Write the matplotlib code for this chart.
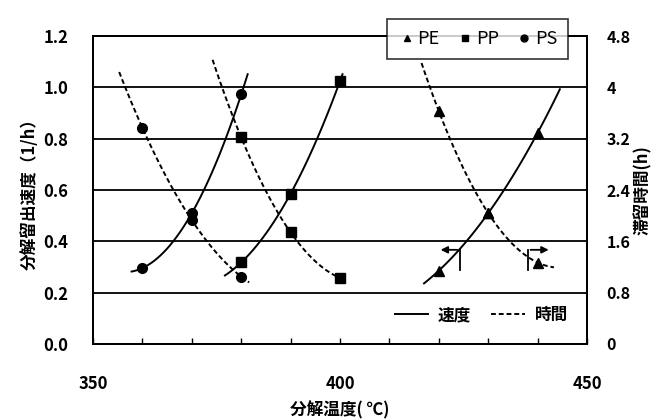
import numpy as np
import matplotlib
matplotlib.use('Agg')
from matplotlib import pyplot as plt
from matplotlib.lines import Line2D

plt.rcParams['font.family'] = ['Noto Sans CJK JP', 'DejaVu Sans']

# decomposition temperature (C) for each resin
temps = [360, 370, 380]
pp_temps = [380, 390, 400]
pe_temps = [420, 430, 440]

# distillation rate (1/h), left axis
ps_rate = [0.296, 0.51, 0.973]
pp_rate = [0.318, 0.586, 1.025]
pe_rate = [0.286, 0.51, 0.823]

# residence time (h), right axis
ps_time = [3.37, 1.93, 1.05]
pp_time = [3.22, 1.74, 1.03]
pe_time = [3.63, 2.04, 1.27]

# temperature span of each trend curve
ps_rate_span = (357.8, 381.3)
ps_time_span = (355.3, 381.6)
pp_rate_span = (376.7, 400.5)
pp_time_span = (374.2, 400.0)
pe_rate_span = (417.0, 444.5)
pe_time_span = (416.5, 443.3)

left_ticks = [0.0, 0.2, 0.4, 0.6, 0.8, 1.0, 1.2]
right_ticks = [0, 0.8, 1.6, 2.4, 3.2, 4, 4.8]
right_labels = ['0', '0.8', '1.6', '2.4', '3.2', '4', '4.8']


def trend(ax, x, y, span, ls):
    c = np.polyfit(x, y, 2)
    xs = np.linspace(span[0], span[1], 100)
    ax.plot(xs, np.polyval(c, xs), color='black', lw=1.4, ls=ls)


fig = plt.figure(figsize=(6.57, 4.2), dpi=100)
ax = fig.add_axes([0.1416, 0.181, 0.7519, 0.733])
ax2 = ax.twinx()

ax.set_xlim(350, 450)
ax.set_ylim(0, 1.2)
ax2.set_ylim(0, 4.8)

for v in left_ticks[1:-1]:
    ax.axhline(v, color='black', lw=1.3, zorder=1)

dash = (0, (2.5, 1.5))
trend(ax, temps, ps_rate, ps_rate_span, '-')
trend(ax, pp_temps, pp_rate, pp_rate_span, '-')
trend(ax, pe_temps, pe_rate, pe_rate_span, '-')
trend(ax2, temps, ps_time, ps_time_span, dash)
trend(ax2, pp_temps, pp_time, pp_time_span, dash)
trend(ax2, pe_temps, pe_time, pe_time_span, dash)

ax.plot(temps, ps_rate, 'o', color='black', ms=7)
ax.plot(pp_temps, pp_rate, 's', color='black', ms=6.5)
ax.plot(pe_temps, pe_rate, '^', color='black', ms=6.5)
ax2.plot(temps, ps_time, 'o', color='black', ms=7)
ax2.plot(pp_temps, pp_time, 's', color='black', ms=6.5)
ax2.plot(pe_temps, pe_time, '^', color='black', ms=6.5)

# arrows telling which axis each PE curve belongs to
ax.plot([424.3, 424.3], [0.29, 0.367], color='black', lw=1.3)
ax.annotate('', xy=(419.8, 0.367), xytext=(424.3, 0.367),
            arrowprops=dict(arrowstyle='-|>', color='black', lw=1.3, mutation_scale=10))
ax.plot([438.0, 438.0], [0.29, 0.367], color='black', lw=1.3)
ax.annotate('', xy=(442.8, 0.367), xytext=(438.0, 0.367),
            arrowprops=dict(arrowstyle='-|>', color='black', lw=1.3, mutation_scale=10))

ax.set_xticks([350, 360, 370, 380, 390, 400, 410, 420, 430, 440, 450])
ax.set_xticklabels(['350', '', '', '', '', '400', '', '', '', '', '450'])
ax.set_yticks(left_ticks)
ax.set_yticklabels(['%.1f' % v for v in left_ticks])
ax2.set_yticks(right_ticks)
ax2.set_yticklabels(right_labels)

ax.tick_params(axis='x', direction='in', length=4, width=1, pad=22, labelsize=12)
ax.tick_params(axis='y', length=0, pad=18, labelsize=12)
ax2.tick_params(axis='y', length=0, pad=14, labelsize=11.5)
for lab in ax.get_xticklabels() + ax.get_yticklabels() + ax2.get_yticklabels():
    lab.set_fontweight('bold')

for sp in list(ax.spines.values()) + list(ax2.spines.values()):
    sp.set_linewidth(1.4)

fig.text(340 / 657, 1 - 410 / 420, '分解温度( ℃)', fontsize=12, fontweight='bold',
         ha='center', va='center')
fig.text(30 / 657, 1 - 190 / 420, '分解留出速度（1/h）', fontsize=12, fontweight='bold',
         ha='center', va='center', rotation=90)
fig.text(643 / 657, 1 - 190 / 420, '滞留時間(h)', fontsize=12, fontweight='bold',
         ha='center', va='center', rotation=90)

# marker legend on the top border
mk = [Line2D([], [], marker=m, color='black', ls='none', ms=5) for m in ['^', 's', 'o']]
leg1 = ax2.legend(mk, ['PE', 'PP', 'PS'], ncol=3, loc='center',
                  bbox_to_anchor=(0.778, 0.99), frameon=True, fancybox=False,
                  edgecolor='black', handletextpad=0.1, columnspacing=0.9,
                  handlelength=1.0, borderpad=0.6, prop={'size': 13})
leg1.get_frame().set_linewidth(1.2)
ax2.add_artist(leg1)

# line style legend inside the plot
ls_handles = [Line2D([], [], color='black', lw=1.4),
              Line2D([], [], color='black', lw=1.4, ls=dash)]
ax2.legend(ls_handles, ['速度', '時間'], ncol=2, loc='center',
           bbox_to_anchor=(0.786, 0.094), frameon=False, handlelength=2.0,
           handletextpad=0.6, columnspacing=1.2,
           prop={'size': 12, 'weight': 'bold'})

fig.savefig('out.png', dpi=100)
